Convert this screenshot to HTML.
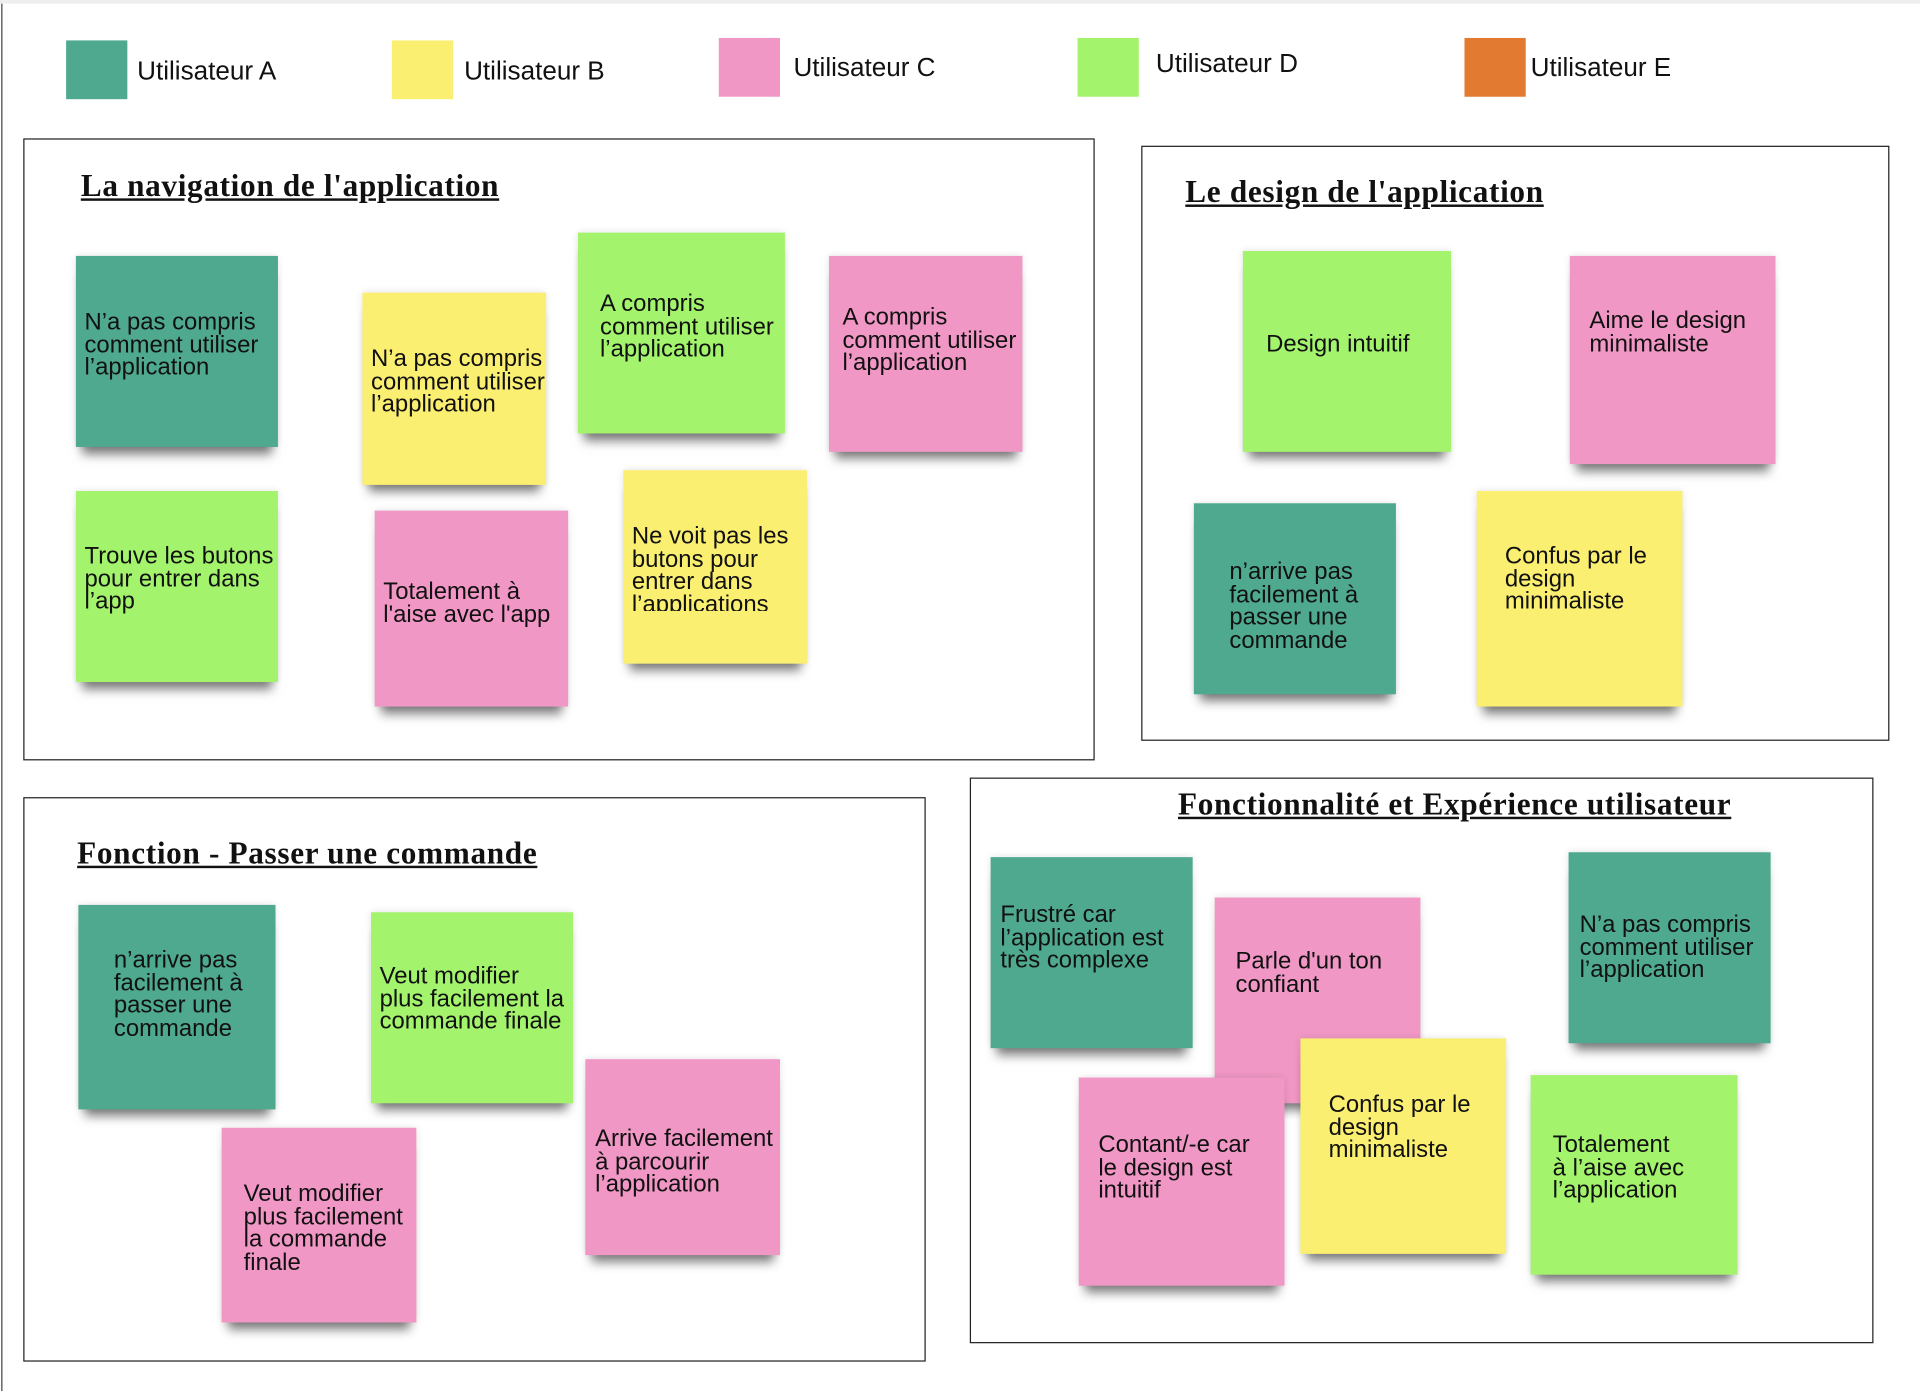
<!DOCTYPE html>
<html><head><meta charset="utf-8"><style>
html,body{margin:0;padding:0;background:#fff;width:1920px;height:1391px;overflow:hidden}
#c{position:absolute;left:0;top:0;width:1568px;height:1136px;transform:scale(1.22449);transform-origin:0 0;font-family:"Liberation Sans",Arial,sans-serif}
.bar{position:absolute;left:0;top:0;width:1568px;height:3px;background:#eee}
.lb{position:absolute;left:1px;top:3px;width:1px;height:1133px;background:#444}
.sq{position:absolute;width:50px;height:48px}
.lt{position:absolute;font-size:21.3px;color:#111;line-height:20px}
.fr{position:absolute;border:1.5px solid #222;box-sizing:border-box}
.ti{position:absolute;font-family:"Liberation Serif",serif;font-weight:bold;font-size:25.5px;text-decoration:underline;color:#111;letter-spacing:0.55px;white-space:nowrap}
.s{position:absolute;box-sizing:border-box;font-size:19.5px;line-height:18.5px;color:#111;overflow:hidden;box-shadow:0 11px 8px -5px rgba(0,0,0,.5),0 0 6px rgba(0,0,0,.12)}
.s span{position:absolute;white-space:nowrap}
.T{background:#4ea98e}.Y{background:#fbef72}.P{background:#f197c5}.G{background:#a3f46c}
</style></head><body><div id="c">
<div class="bar"></div><div class="lb"></div>
<div class="sq T" style="left:54px;top:33px"></div><div class="lt" style="left:112px;top:48px">Utilisateur A</div>
<div class="sq Y" style="left:320px;top:33px"></div><div class="lt" style="left:379px;top:48px">Utilisateur B</div>
<div class="sq P" style="left:587px;top:31px"></div><div class="lt" style="left:648px;top:45px">Utilisateur C</div>
<div class="sq G" style="left:880px;top:31px"></div><div class="lt" style="left:944px;top:42px">Utilisateur D</div>
<div class="sq" style="left:1196px;top:31px;background:#e37a32;width:50px"></div><div class="lt" style="left:1250px;top:45px">Utilisateur E</div>

<div class="fr" style="left:19px;top:113px;width:875px;height:508px"></div>
<div class="ti" style="left:66px;top:137px">La navigation de l'application</div>
<div class="fr" style="left:932px;top:119px;width:611px;height:486px"></div>
<div class="ti" style="left:968px;top:142px">Le design de l'application</div>
<div class="fr" style="left:19px;top:651px;width:737px;height:461px"></div>
<div class="ti" style="left:63px;top:682px">Fonction - Passer une commande</div>
<div class="fr" style="left:792px;top:635px;width:738px;height:462px"></div>
<div class="ti" style="left:962px;top:642px">Fonctionnalité et Expérience utilisateur</div>

<div class="s T" style="left:62px;top:209px;width:165px;height:156px"><span style="left:7px;top:45px">N’a pas compris<br>comment utiliser<br>l’application</span></div>
<div class="s Y" style="left:296px;top:239px;width:150px;height:157px"><span style="left:7px;top:45px">N’a pas compris<br>comment utiliser<br>l’application</span></div>
<div class="s G" style="left:472px;top:190px;width:169px;height:164px"><span style="left:18px;top:49px">A compris<br>comment utiliser<br>l’application</span></div>
<div class="s P" style="left:677px;top:209px;width:158px;height:160px"><span style="left:11px;top:41px">A compris<br>comment utiliser<br>l’application</span></div>
<div class="s G" style="left:62px;top:401px;width:165px;height:156px"><span style="left:7px;top:44px">Trouve les butons<br>pour entrer dans<br>l’app</span></div>
<div class="s P" style="left:306px;top:417px;width:158px;height:160px"><span style="left:7px;top:57px">Totalement à<br>l'aise avec l'app</span></div>
<div class="s Y" style="left:509px;top:384px;width:150px;height:158px"><span style="left:7px;top:45px;height:70px;overflow:hidden">Ne voit pas les<br>butons pour<br>entrer dans<br>l’applications</span></div>

<div class="s G" style="left:1015px;top:205px;width:170px;height:164px"><span style="left:19px;top:67px">Design intuitif</span></div>
<div class="s P" style="left:1282px;top:209px;width:168px;height:170px"><span style="left:16px;top:44px">Aime le design<br>minimaliste</span></div>
<div class="s T" style="left:975px;top:411px;width:165px;height:156px"><span style="left:29px;top:47px">n’arrive pas<br>facilement à<br>passer une<br>commande</span></div>
<div class="s Y" style="left:1206px;top:401px;width:168px;height:176px"><span style="left:23px;top:44px">Confus par le<br>design<br>minimaliste</span></div>

<div class="s T" style="left:64px;top:739px;width:161px;height:167px"><span style="left:29px;top:36px">n’arrive pas<br>facilement à<br>passer une<br>commande</span></div>
<div class="s G" style="left:303px;top:745px;width:165px;height:156px"><span style="left:7px;top:43px">Veut modifier<br>plus facilement la<br>commande finale</span></div>
<div class="s P" style="left:478px;top:865px;width:159px;height:160px"><span style="left:8px;top:56px">Arrive facilement<br>à parcourir<br>l’application</span></div>
<div class="s P" style="left:181px;top:921px;width:159px;height:159px"><span style="left:18px;top:45px">Veut modifier<br>plus facilement<br>la commande<br>finale</span></div>

<div class="s T" style="left:809px;top:700px;width:165px;height:156px"><span style="left:8px;top:38px">Frustré car<br>l’application est<br>très complexe</span></div>
<div class="s P" style="left:992px;top:733px;width:168px;height:168px"><span style="left:17px;top:43px">Parle d'un ton<br>confiant</span></div>
<div class="s T" style="left:1281px;top:696px;width:165px;height:156px"><span style="left:9px;top:50px">N’a pas compris<br>comment utiliser<br>l’application</span></div>
<div class="s P" style="left:881px;top:880px;width:168px;height:170px"><span style="left:16px;top:46px">Contant/-e car<br>le design est<br>intuitif</span></div>
<div class="s Y" style="left:1062px;top:848px;width:168px;height:176px"><span style="left:23px;top:45px">Confus par le<br>design<br>minimaliste</span></div>
<div class="s G" style="left:1250px;top:878px;width:169px;height:163px"><span style="left:18px;top:48px">Totalement<br>à l’aise avec<br>l’application</span></div>
</div></body></html>
